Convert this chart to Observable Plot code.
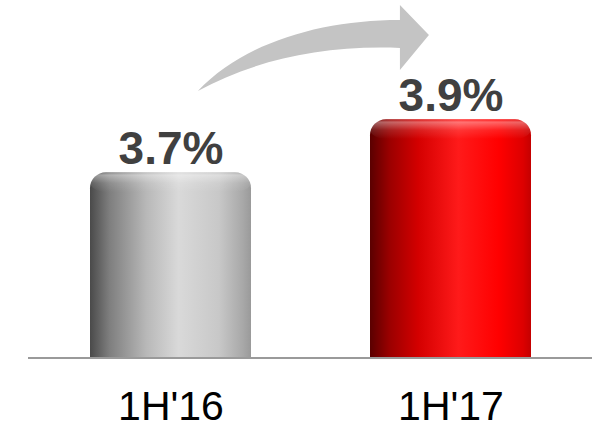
<!DOCTYPE html>
<html>
<head>
<meta charset="utf-8">
<script src="https://cdn.jsdelivr.net/npm/d3@7"></script>
<script src="https://cdn.jsdelivr.net/npm/@observablehq/plot@0.6"></script>
<style>
  html, body { margin: 0; padding: 0; background: #fff; }
  #chart { width: 598px; height: 428px; overflow: hidden; }
</style>
</head>
<body>
<div id="chart"></div>
<script>
// Half-year margin comparison
const periods = ["1H'16", "1H'17"];
const margins = [3.7, 3.9];
const barFills = ["url(#cylGray)", "url(#cylRed)"];
const baseline = 3.0;   // value axis starts here
const yTop = 4.35;

const rows = periods.map((p, i) => ({ period: p, value: margins[i], fill: barFills[i] }));
const font = "'Liberation Sans', Arial, Helvetica, sans-serif";

const chart = Plot.plot({
  width: 598,
  height: 428,
  marginTop: 0,
  marginBottom: 70.5,
  marginLeft: 28,
  marginRight: 6,
  style: { fontFamily: font, background: "#fff", color: "#000", overflow: "visible" },
  x: { domain: periods, range: [89.5, 531], paddingInner: 0.426, paddingOuter: 0, axis: null, label: null },
  y: { domain: [baseline, yTop], axis: null },
  color: { type: "identity" },
  marks: [
    // cylinder body with rounded top
    Plot.barY(rows, { x: "period", y1: () => baseline, y2: "value", fill: d => d.fill, rx: 16 }),
    // square off the bottom corners
    Plot.barY(rows, { x: "period", y1: () => baseline, y2: d => (baseline + d.value) / 2, fill: d => d.fill }),
    // light rim on the cylinder top
    Plot.barY(rows, { x: "period", y1: d => d.value - 0.075, y2: "value", fill: () => "url(#cylShine)", rx: 16 }),
    Plot.ruleY([baseline], { stroke: "#9a9a9a", strokeWidth: 2.2 }),
    Plot.text(rows, {
      x: "period", y: "value", text: d => d.value.toFixed(1) + "%",
      dy: -9, lineAnchor: "bottom", fontSize: 46, fontWeight: "bold", fill: "#404040"
    }),
    Plot.axisX({ tickSize: 0, tickPadding: 33, fontSize: 41, fill: "#000", label: null })
  ]
});

document.getElementById("chart").appendChild(chart);

// gradients for the cylinder shading
const svg = d3.select(chart.tagName.toLowerCase() === "svg" ? chart : chart.querySelector("svg"));
const defs = svg.insert("defs", ":first-child");

function hGradient(id, stops) {
  const g = defs.append("linearGradient").attr("id", id)
    .attr("x1", 0).attr("y1", 0).attr("x2", 1).attr("y2", 0);
  stops.forEach(([o, c]) => g.append("stop").attr("offset", o).attr("stop-color", c));
}
hGradient("cylGray", [
  [0, "#4a4a4a"], [0.12, "#7e7e7e"], [0.35, "#b8b8b8"], [0.55, "#d9d9d9"],
  [0.8, "#c8c8c8"], [0.95, "#a8a8a8"], [1, "#9a9a9a"]
]);
hGradient("cylRed", [
  [0, "#5a0000"], [0.12, "#9a0000"], [0.3, "#d40000"], [0.55, "#ff1a1a"],
  [0.8, "#ff0000"], [0.95, "#dd0000"], [1, "#c40000"]
]);
const shine = defs.append("linearGradient").attr("id", "cylShine")
  .attr("x1", 0).attr("y1", 0).attr("x2", 0).attr("y2", 1);
[[0, "#ffffff", 0.05], [0.15, "#ffffff", 0.4], [0.55, "#ffffff", 0.12], [1, "#ffffff", 0]]
  .forEach(([o, c, a]) => shine.append("stop").attr("offset", o).attr("stop-color", c).attr("stop-opacity", a));

// curved growth arrow from the first bar towards the second
const xs = chart.scale("x"), ys = chart.scale("y");
const bw = xs.bandwidth;
const tx = xs.apply(periods[0]) + bw * 0.67, ty = ys.apply(4.006);
const hx = xs.apply(periods[1]) + bw * 0.366, hy = ys.apply(4.218);
const bx = hx - 29;
const arrowPath = [
  `M${tx},${ty}`,
  `C${tx + 45},${ty - 48} ${bx - 80},${hy - 15} ${bx},${hy - 15}`,
  `L${bx},${hy - 30}`,
  `L${hx},${hy}`,
  `L${bx},${hy + 35}`,
  `L${bx},${hy + 13}`,
  `C${bx - 80},${hy + 10} ${tx + 55},${ty - 30} ${tx},${ty}`,
  "Z"
].join(" ");
svg.insert("path", "g[aria-label='text']")
  .attr("d", arrowPath)
  .attr("fill", "#c4c4c4");
</script>
</body>
</html>
